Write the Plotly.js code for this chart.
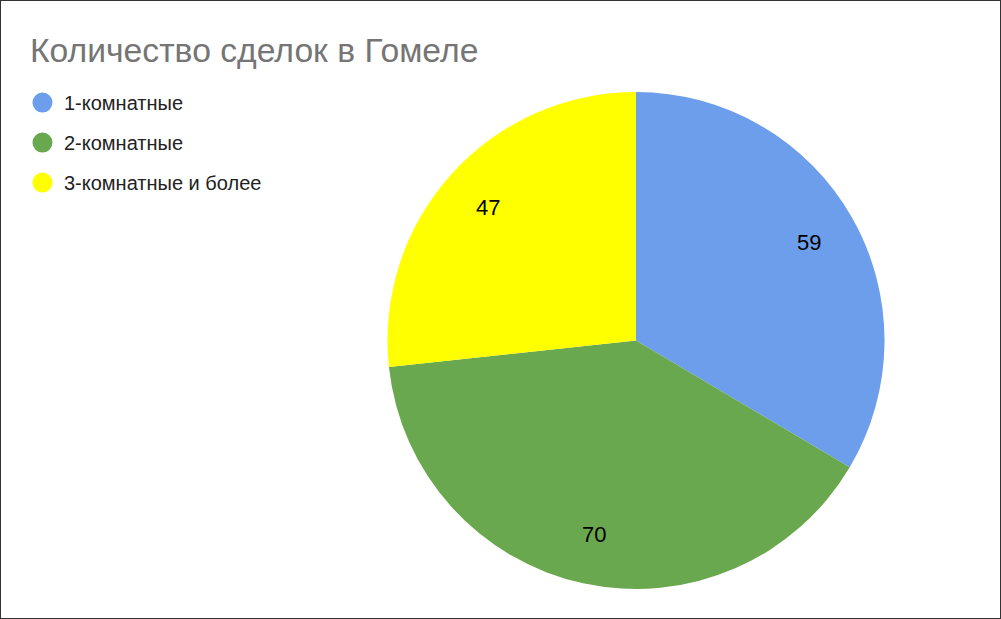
<!DOCTYPE html>
<html>
<head>
<meta charset="utf-8">
<script src="https://cdn.plot.ly/plotly-3.0.1.min.js"></script>
<style>
  body { margin: 0; background: #fff; }
  #myDiv { width: 999px; height: 617px; border: 1px solid #333; }
</style>
</head>
<body>
<div id="myDiv"></div>
<script>
var labels = ['1-комнатные', '2-комнатные', '3-комнатные и более'];
var values = [59, 70, 47];
var colors = ['#6d9eeb', '#6aa84f', '#ffff00'];

var W = 999, H = 617;
var pieX = [0.3869, 0.8844], pieY = [0.047, 0.8525];

var pie = {
  type: 'pie',
  labels: labels,
  values: values,
  sort: false,
  direction: 'clockwise',
  rotation: 0,
  marker: { colors: colors, line: { width: 0 } },
  textinfo: 'none',
  hoverinfo: 'label+value+percent',
  showlegend: false,
  domain: { x: pieX, y: pieY }
};

// legend entries with round markers, like the original
var legendTraces = labels.map(function (name, i) {
  return {
    type: 'scatter',
    mode: 'markers',
    x: [null],
    y: [null],
    name: name,
    legendgroup: 'g' + i,
    marker: { color: colors[i], size: 16, symbol: 'circle', line: { color: colors[i], width: 4 } },
    showlegend: true,
    hoverinfo: 'skip'
  };
});

// value labels sit further out than plotly puts them, so place them from the slice angles
var total = values.reduce(function (a, b) { return a + b; }, 0);
var cx = (pieX[0] + pieX[1]) / 2, cy = (pieY[0] + pieY[1]) / 2;
var rad = Math.min((pieX[1] - pieX[0]) * W, (pieY[1] - pieY[0]) * H) / 2;
var labelR = rad * 0.8;
var cum = 0;
var annotations = values.map(function (v) {
  var mid = (cum + v / 2) / total * 2 * Math.PI;
  cum += v;
  return {
    text: String(v),
    x: cx + labelR * Math.sin(mid) / W,
    y: cy + labelR * Math.cos(mid) / H,
    xref: 'paper', yref: 'paper',
    xanchor: 'center', yanchor: 'middle',
    showarrow: false,
    font: { family: 'Liberation Sans, Arial, sans-serif', size: 22, color: '#000' }
  };
});

var layout = {
  width: W,
  height: H,
  margin: { l: 0, r: 0, t: 0, b: 0 },
  paper_bgcolor: '#fff',
  plot_bgcolor: '#fff',
  font: { family: 'Liberation Sans, Arial, sans-serif', color: '#222' },
  title: {
    text: 'Количество сделок в Гомеле',
    font: { family: 'Liberation Sans, Arial, sans-serif', size: 33.7, color: '#757575' },
    x: 0.029,
    xanchor: 'left',
    xref: 'container',
    y: 0.921,
    yanchor: 'middle'
  },
  xaxis: { visible: false, range: [0, 1] },
  yaxis: { visible: false, range: [0, 1] },
  annotations: annotations,
  legend: {
    x: 0.02,
    xanchor: 'left',
    y: 0.867,
    yanchor: 'top',
    font: { size: 20, color: '#222' },
    tracegroupgap: 11,
    itemwidth: 33,
    itemclick: false,
    bgcolor: 'rgba(0,0,0,0)'
  }
};

var data = [pie].concat(legendTraces);
Plotly.newPlot('myDiv', data, layout, { displayModeBar: false });
</script>
</body>
</html>
